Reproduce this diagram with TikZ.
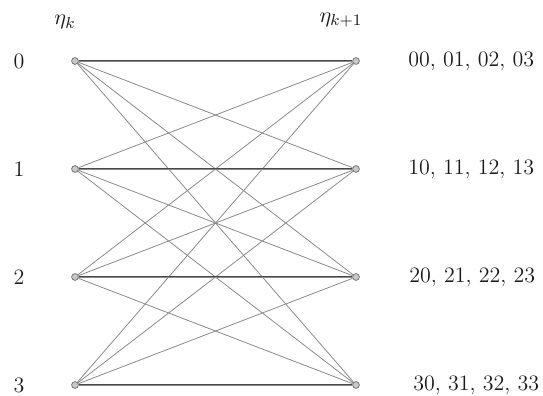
\documentclass[tikz,border=0pt]{standalone}
\usetikzlibrary{backgrounds}
\definecolor{ink}{HTML}{1A1A1A}
\definecolor{edge}{HTML}{8A8A8A}
\definecolor{dotline}{HTML}{7A7A7A}
\definecolor{dotfill}{HTML}{C8C8C8}

\begin{document}
\begin{tikzpicture}[
  x=0.5pt, y=-0.5pt, font=\fontsize{11}{13}\selectfont,
  state/.style={circle, draw=dotline, fill=dotfill, line width=.4pt,
                inner sep=0pt, minimum size=3.4pt},
  lbl/.style={inner sep=1pt, text=ink},
  link/.style={draw=edge, line width=.4pt},
  flat/.style={draw=ink!80, line width=.5pt},
]
\useasboundingbox (0,0) rectangle (543,396);

%% ================= states at k and k+1 =================
\foreach \i/\y in {0/61,1/169,2/277,3/385} {
  \node[state] (l\i) at (75,\y) {};
  \node[state] (r\i) at (356,\y) {};
  \node[lbl] (n\i) at (19,\y) {\i};
}
\node[lbl] (hk)  at (65,22) {$\eta_k$};
\node[lbl] (hk1) at (341,20) {$\eta_{k+1}$};

%% ================= pairs on the right =================
\node[lbl, anchor=west] (p0) at (406,61)  {00, 01, 02, 03};
\node[lbl, anchor=west] (p1) at (406,169) {10, 11, 12, 13};
\node[lbl, anchor=west] (p2) at (407,277) {20, 21, 22, 23};
\node[lbl, anchor=west] (p3) at (411,385) {30, 31, 32, 33};

%% ================= transitions =================
\begin{scope}[on background layer]
  \foreach \i in {0,...,3}
    \foreach \j in {0,...,3}
      \draw[link] (l\i) -- (r\j);
  \foreach \i in {0,...,3}
    \draw[flat] (l\i) -- (r\i);
\end{scope}

\end{tikzpicture}
\end{document}
